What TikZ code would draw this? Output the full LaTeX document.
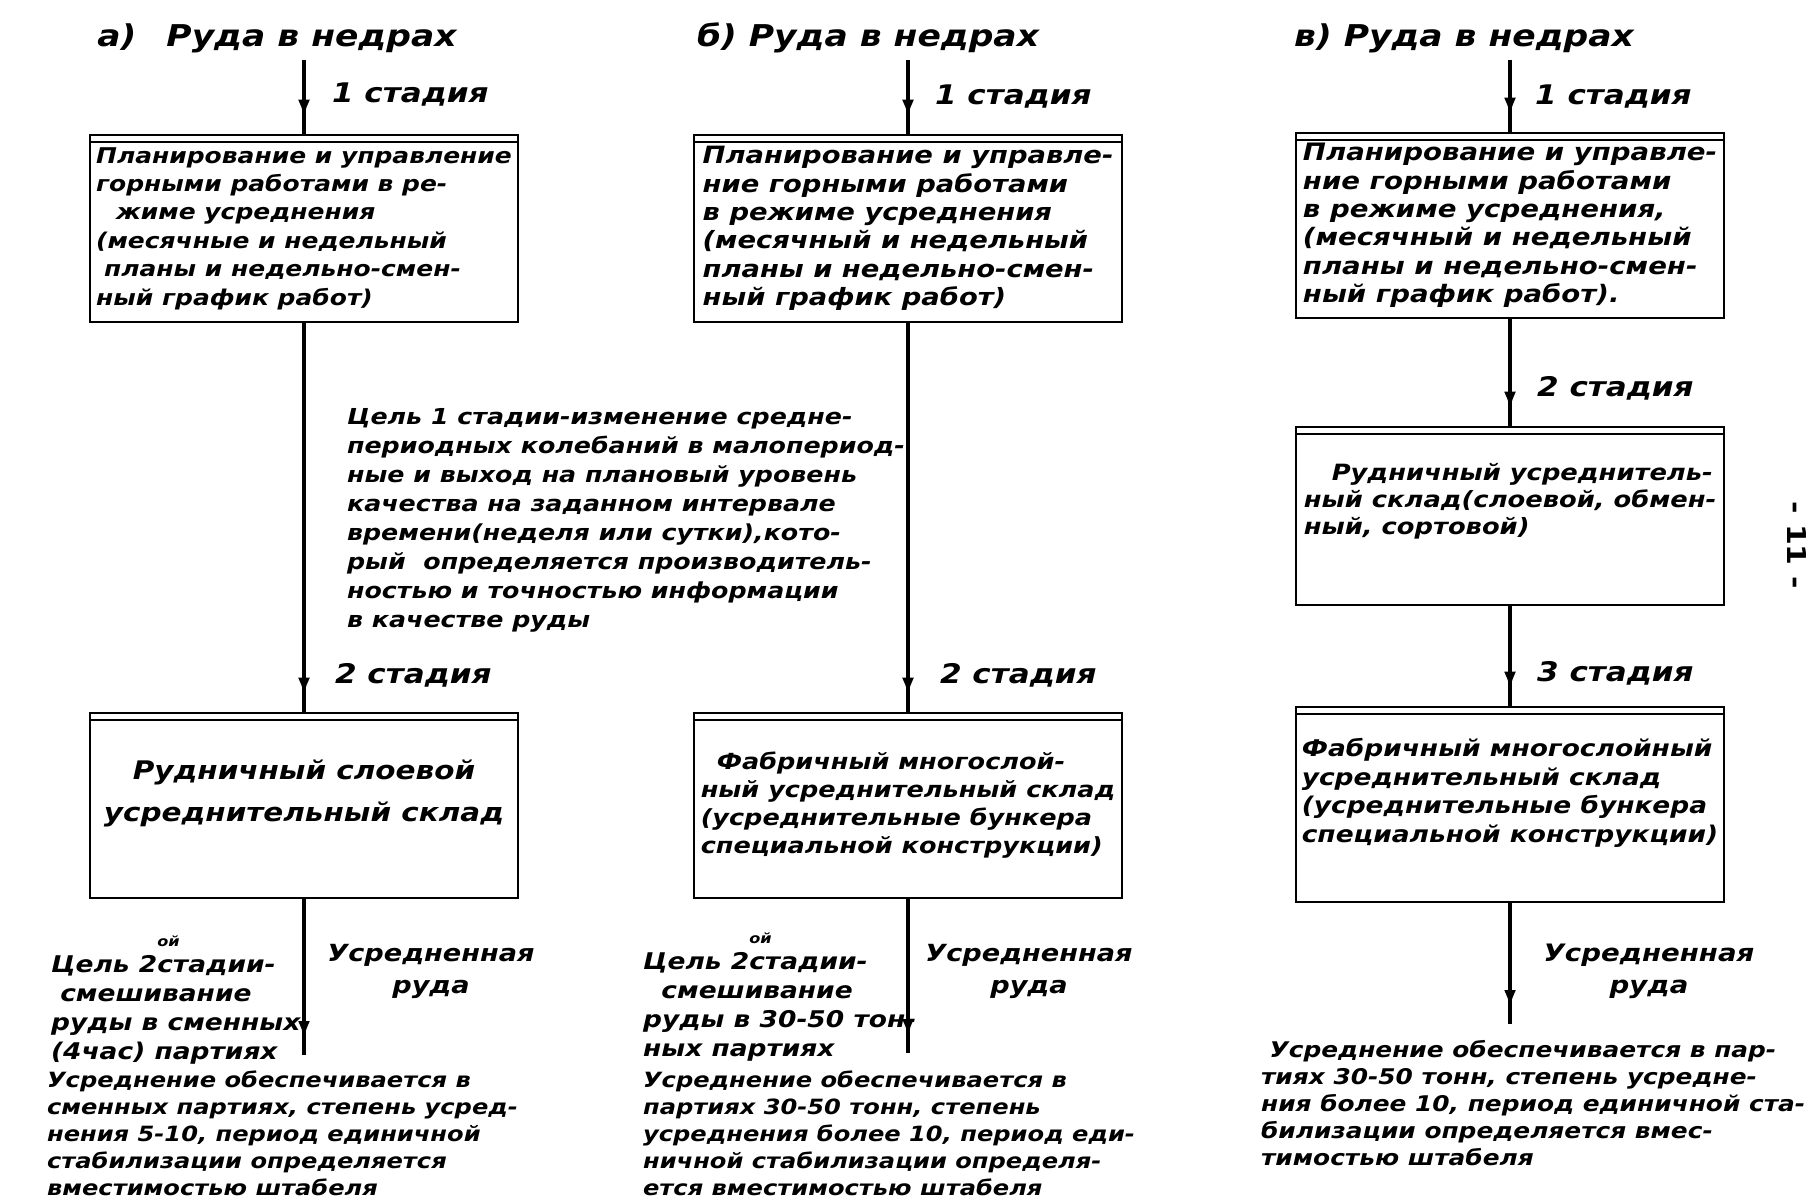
\documentclass[tikz,border=0pt]{standalone}
\usepackage{fontspec}
\setmainfont{DejaVu Sans}[FakeStretch=1.15]
\usetikzlibrary{arrows.meta,decorations.markings}
\newcommand\handfont[2]{\bfseries\itshape\fontsize{#1}{#2}\selectfont}

\begin{document}
\begin{tikzpicture}[x=0.5pt,y=-0.5pt,every node/.style={font=\handfont{10.5}{13.5}}]
  \tikzstyle{stock}=[draw, line width=1.3pt, inner xsep=2pt, inner ysep=3pt, minimum width=214pt, align=left,
    path picture={\draw[line width=0.6pt] ([yshift=-3.5pt]path picture bounding box.north west) -- ([yshift=-3.5pt]path picture bounding box.north east);}]
  \tikzstyle{flow}=[line width=1.8pt, postaction={decorate},
    decoration={markings, mark=at position -8pt with {\arrow{Latex[length=9pt,width=6pt]}}}]
  \tikzstyle{stage}=[anchor=west, font=\handfont{13.5}{15}]
  \tikzstyle{title}=[font=\handfont{15}{17}]
  \tikzstyle{note}=[align=left, anchor=west]
  \tikzstyle{product}=[align=center, font=\handfont{11.8}{16}]

\useasboundingbox (0,0) rectangle (1818,1202);

% а)
\node [title] (t_a) at (277,38) {а)\quad Руда в недрах};
\node [stock, minimum height=93.5pt, font=\handfont{10.85}{14.2}] (a_1) at (304,228.5) {Планирование и управление\\горными работами в ре-\\\hspace{10pt}жиме усреднения\\(месячные и недельный\\\hspace{4pt}планы и недельно-смен-\\ный график работ)};
\node [stock, minimum height=92.5pt, align=center, font=\handfont{12.8}{21}] (a_2) at (304,805.5) {Рудничный слоевой\\усреднительный склад\\[-6pt]\mbox{}};
\coordinate (end_a) at (304,1055);

\node [stage] (s_a1) at (325,95) {1 стадия};
\node [stage] (s_a2) at (328,675) {2 стадия};
\node [note, font=\handfont{11}{14.5}] (goal_a1) at (340,520) {Цель 1 стадии-изменение средне-\\периодных колебаний в малопериод-\\ные и выход на плановый уровень\\качества на заданном интервале\\времени(неделя или сутки),кото-\\рый \ определяется производитель-\\ностью и точностью информации\\в качестве руды};
\node [note, font=\handfont{11.5}{14.5}] (goal_a2) at (44,1000) {Цель 2\rlap{\raisebox{2.1ex}{\scriptsize ой}}стадии-\\\ смешивание\\руды в сменных\\(4час) партиях};
\node [product] (out_a) at (431,971) {Усредненная\\руда};
\node [note] (res_a) at (40,1133) {Усреднение обеспечивается в\\сменных партиях, степень усред-\\нения 5-10, период единичной\\стабилизации определяется\\вместимостью штабеля};

% б)
\node [title] (t_b) at (868,38) {б)\ Руда в недрах};
\node [stock, minimum height=93.5pt, font=\handfont{11.9}{14.2}] (b_1) at (908,228.5) {Планирование и управле-\\ние горными работами\\в режиме усреднения\\(месячный и недельный\\планы и недельно-смен-\\ный график работ)};
\node [stock, minimum height=92.5pt, font=\handfont{11.1}{14}] (b_2) at (908,805.5) {\hspace{8pt}Фабричный многослой-\\ный усреднительный склад\\(усреднительные бункера\\специальной конструкции)};
\coordinate (end_b) at (908,1053);

\node [stage] (s_b1) at (928,97) {1 стадия};
\node [stage] (s_b2) at (933,675) {2 стадия};
\node [note, font=\handfont{11.5}{14.5}] (goal_b2) at (636,997) {Цель 2\rlap{\raisebox{2.1ex}{\scriptsize ой}}стадии-\\\ \ смешивание\\руды в 30-50 тон-\\ных партиях};
\node [product] (out_b) at (1029,971) {Усредненная\\руда};
\node [note] (res_b) at (636,1133) {Усреднение обеспечивается в\\партиях 30-50 тонн, степень\\усреднения более 10, период еди-\\ничной стабилизации определя-\\ется вместимостью штабеля};

% в)
\node [title] (t_c) at (1464,38) {в)\ Руда в недрах};
\node [stock, minimum height=92.5pt, font=\handfont{12}{14.2}] (c_1) at (1510,225.5) {Планирование и управле-\\ние горными работами\\в режиме усреднения,\\(месячный и недельный\\планы и недельно-смен-\\ный график работ).};
\node [stock, minimum height=89pt, font=\handfont{11.2}{13.5}] (c_2) at (1510,516) {\hspace{14pt}Рудничный усреднитель-\\ный склад(слоевой, обмен-\\ный, сортовой)\\[4pt]\mbox{}};
\node [stock, minimum height=97.5pt, font=\handfont{11.5}{14.2}] (c_3) at (1510,804.5) {Фабричный многослойный\\усреднительный склад\\(усреднительные бункера\\специальной конструкции)\\\mbox{}};
\coordinate (end_c) at (1510,1024);

\node [stage] (s_c1) at (1528,97) {1 стадия};
\node [stage] (s_c2) at (1530,388) {2 стадия};
\node [stage] (s_c3) at (1530,673) {3 стадия};
\node [product, font=\handfont{12}{16}] (out_c) at (1649,971) {Усредненная\\руда};
\node [note, font=\handfont{10.8}{13.5}] (res_c) at (1254,1103) {\ Усреднение обеспечивается в пар-\\тиях 30-50 тонн, степень усредне-\\ния более 10, период единичной ста-\\билизации определяется вмес-\\тимостью штабеля};

\node [rotate=-90, font=\bfseries\fontsize{13}{15}\selectfont] (pg) at (1797,545) {- 11 -};

\draw[flow] (t_a.south -| a_1.north) -- (a_1.north);
\draw[flow] (a_1) -- (a_2);
\draw[flow] (a_2) -- (end_a);

\draw[flow] (t_b.south -| b_1.north) -- (b_1.north);
\draw[flow] (b_1) -- (b_2);
\draw[flow] (b_2) -- (end_b);

\draw[flow] (t_c.south -| c_1.north) -- (c_1.north);
\draw[flow] (c_1) -- (c_2);
\draw[flow] (c_2) -- (c_3);
\draw[flow] (c_3) -- (end_c);

\end{tikzpicture}
\end{document}
